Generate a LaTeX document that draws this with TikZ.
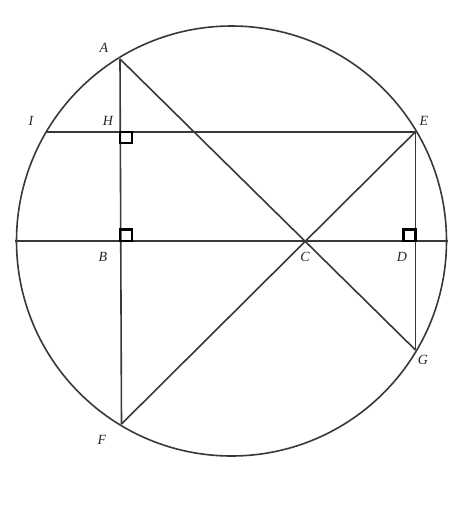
\documentclass[tikz,border=0pt]{standalone}
\usepackage{fontspec}
\setmainfont{Liberation Serif}
\begin{document}
\begin{tikzpicture}[x=1pt,y=-1pt,
  geo/.style={draw=black!78,line width=1.6pt},
  rmark/.style={draw=black,line width=2.4pt},
  lbl/.style={font=\fontsize{14}{16}\selectfont\itshape,text=black!85,inner sep=0pt}]
\useasboundingbox (0,0) rectangle (468,531);
\coordinate (O) at (231.5,241);
\coordinate (L) at (15,241);
\coordinate (R) at (448,241);
\coordinate (A) at (120,59);
\coordinate (H) at (120,131.7);
\coordinate (B) at (120,241);
\coordinate (F) at (121.5,424);
\coordinate (I) at (46.7,131.7);
\coordinate (E) at (415.5,131.7);
\coordinate (D) at (415.5,241);
\coordinate (G) at (415.5,350);
\coordinate (C) at (305,241);
\draw[geo] (O) circle[radius=215];
\draw[geo] (L) -- (R);
\draw[geo] (I) -- (E);
\draw[geo] (A) -- (F);
\draw[geo] (E) -- (G);
\draw[geo] (A) -- (G);
\draw[geo] (F) -- (E);
\draw[rmark] (120,131.7) rectangle (132,143);
\draw[rmark] (120,229.5) rectangle (132,241);
\draw[rmark] (403.5,229.5) rectangle (415.5,241);
\node[lbl] (lA) at (104,48) {A};
\node[lbl] (lI) at (31,121) {I};
\node[lbl] (lH) at (108,121) {H};
\node[lbl] (lE) at (424,121) {E};
\node[lbl] (lB) at (103,257) {B};
\node[lbl] (lC) at (305,257) {C};
\node[lbl] (lD) at (402,257) {D};
\node[lbl] (lG) at (423,360) {G};
\node[lbl] (lF) at (102,440) {F};
\end{tikzpicture}
\end{document}
